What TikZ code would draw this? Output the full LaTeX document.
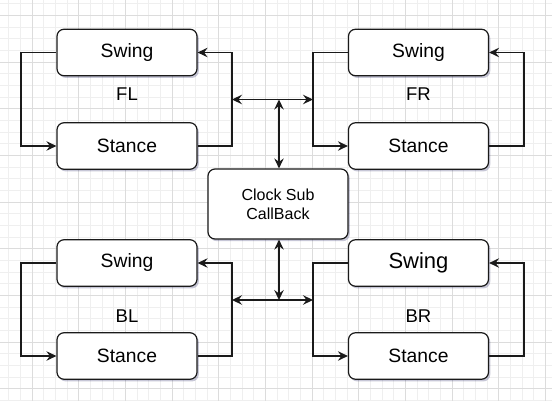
\documentclass[tikz,border=0pt]{standalone}
\usepackage{fontspec}
\setmainfont{Liberation Sans}
\usetikzlibrary{arrows.meta,shadows}
\definecolor{gminor}{HTML}{EFEFEF}
\definecolor{gmajor}{HTML}{DCDCDC}
\definecolor{linec}{HTML}{1A1A1A}
\tikzset{
  box/.style={draw=linec, line width=1.2pt, fill=white, rounded corners=7pt,
    minimum width=140pt, minimum height=46.5pt, inner sep=0pt,
    drop shadow={shadow xshift=1.8pt, shadow yshift=-2.2pt, opacity=.22, fill=black!70!blue}},
  boxtxt/.style={font=\fontsize{19.3}{22}\selectfont},
  lbl/.style={font=\fontsize{18.5}{22}\selectfont, inner sep=0pt},
  conn/.style={draw=linec, line width=1.2pt},
  tip/.style={},
  arr/.style={conn, -{Stealth[length=10pt,width=9.5pt,inset=3.5pt]}},
  darr/.style={conn, {Stealth[length=10pt,width=9.5pt,inset=3.5pt]}-{Stealth[length=10pt,width=9.5pt,inset=3.5pt]}},
}
\begin{document}
\begin{tikzpicture}[x=1pt,y=-1pt]
\useasboundingbox (0,0) rectangle (552,401);
\fill[white] (0,0) rectangle (552,401);
% grid
\foreach \i in {-3,...,47} {
  \draw[gminor, line width=0.8pt] ({32+11.6667*\i},0) -- ({32+11.6667*\i},401);
}
\foreach \i in {-2,...,34} {
  \draw[gminor, line width=0.8pt] (0,{15.33+11.6667*\i}) -- (552,{15.33+11.6667*\i});
}
\foreach \i in {0,...,11} {
  \draw[gmajor, line width=0.8pt] ({32+46.6667*\i},0) -- ({32+46.6667*\i},401);
}
\foreach \i in {0,...,8} {
  \draw[gmajor, line width=0.8pt] (0,{15.33+46.6667*\i}) -- (552,{15.33+46.6667*\i});
}

% boxes
\node[box, boxtxt] (FLsw) at (127,52.5) {Swing};
\node[box, boxtxt] (FLst) at (127,146) {Stance};
\node[box, boxtxt] (FRsw) at (418.5,52.5) {Swing};
\node[box, boxtxt] (FRst) at (418.5,146) {Stance};
\node[box, boxtxt] (BLsw) at (127,263) {Swing};
\node[box, boxtxt] (BLst) at (127,356) {Stance};
\node[box, font=\fontsize{22}{24}\selectfont] (BRsw) at (418.5,263) {Swing};
\node[box, boxtxt] (BRst) at (418.5,356) {Stance};
\node[box, minimum height=70pt, align=center, font=\fontsize{16}{18.7}\selectfont] (clk) at (278,204) {Clock Sub\\CallBack};

% labels
\node[lbl] (lFL) at (127,94) {FL};
\node[lbl] (lFR) at (418.5,94) {FR};
\node[lbl] (lBL) at (127,316) {BL};
\node[lbl] (lBR) at (418.5,316) {BR};

% loop columns
\coordinate (xa) at (21,0);
\coordinate (xb) at (232,0);
\coordinate (xc) at (313,0);
\coordinate (xd) at (524,0);

% FL loop
\draw[arr] (FLsw.west) -- (FLsw.west -| xa) |- (FLst.west);
\draw[arr] (FLst.east) -- (FLst.east -| xb) |- (FLsw.east);
% FR loop
\draw[arr] (FRsw.west) -- (FRsw.west -| xc) |- (FRst.west);
\draw[arr] (FRst.east) -- (FRst.east -| xd) |- (FRsw.east);
% BL loop
\draw[arr] (BLsw.west) -- (BLsw.west -| xa) |- (BLst.west);
\draw[arr] (BLst.east) -- (BLst.east -| xb) |- (BLsw.east);
% BR loop
\draw[arr] (BRsw.west) -- (BRsw.west -| xc) |- (BRst.west);
\draw[arr] (BRst.east) -- (BRst.east -| xd) |- (BRsw.east);

% center links
\coordinate (tl) at (232,99.5);
\coordinate (tr) at (313,99.5);
\coordinate (tm) at (279,99.5);
\coordinate (bl) at (232,300);
\coordinate (br) at (313,300);
\coordinate (bm) at (279,300);
\draw[darr] (tl) -- (tr);
\draw[darr] (bl) -- (br);
\draw[darr] (tm) -- (tm |- clk.north);
\draw[darr] (bm |- clk.south) -- (bm);
\end{tikzpicture}
\end{document}
